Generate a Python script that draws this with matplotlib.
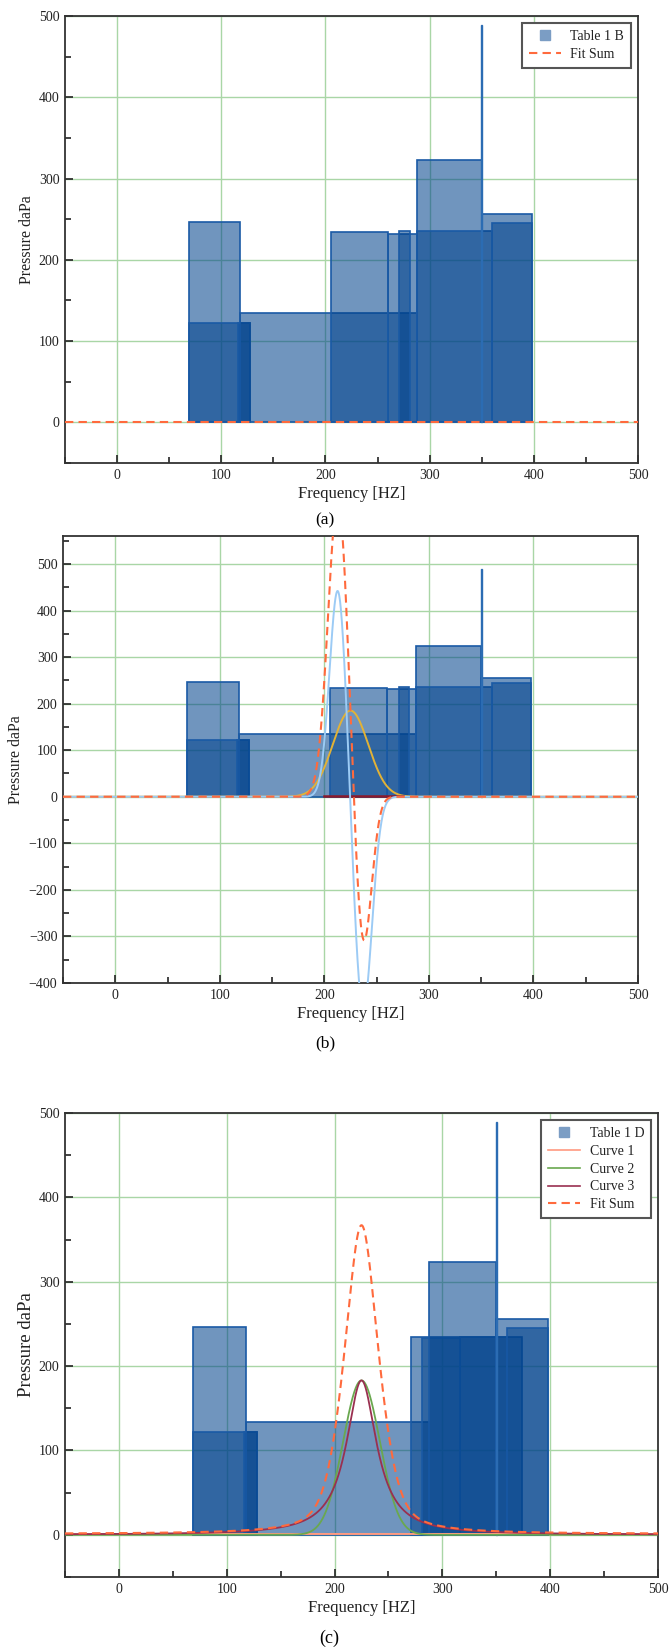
import matplotlib.pyplot as plt
import numpy as np
from matplotlib.lines import Line2D
from matplotlib.ticker import MultipleLocator

plt.rcParams["font.family"] = ["Liberation Serif", "DejaVu Serif"]
plt.rcParams["axes.unicode_minus"] = True

# Table 1 B columns (panels a, b): left edge, right edge [Hz], height [daPa]
bars_b_left = [69, 69, 116, 118, 205, 260, 271, 288, 288, 350, 360]
bars_b_right = [118, 128, 128, 288, 260, 288, 281, 350, 360, 398, 398]
bars_b_height = [246, 122, 122, 134, 234, 232, 235, 323, 235, 256, 245]

# Table 1 D columns (panel c)
bars_d_left = [69, 69, 116, 118, 271, 281, 316, 288, 350, 360]
bars_d_right = [118, 128, 128, 288, 360, 316, 374, 350, 398, 398]
bars_d_height = [246, 122, 122, 134, 235, 233, 234, 323, 256, 245]

# narrow spike at 350 Hz present in every table
spike_x = 350
spike_h = 489

# panel a: fit sum stays on the baseline
fit_a_x = [-50, 500]
fit_a_y = [1, 1]

# panel b fit components: (amplitude, centre, sigma)
blue_peaks = [(450, 213, 8.0), (-460, 237, 8.5)]
yellow_peaks = [(185, 225, 17.0)]
fit_b_peaks = [(640, 213, 9.5), (-331, 237, 8.0)]
red_b_x = [200, 275]
red_b_y = [1, 1]

# panel c fit components
curve1_level = 1.0
curve2_gauss = (183, 225, 17.0)      # amplitude, centre, sigma
curve3_lorentz = (183, 225, 17.0)    # amplitude, centre, half width

X_EVAL = np.linspace(-50, 500, 2201)

BAR_FACE = (0.0, 0.26, 0.55, 0.56)
BAR_EDGE = "#1a5aa5"
LEGEND_SQ = "#7b9dc4"
FIT_COLOR = "#ff6a3d"
GRID_COLOR = "#a9d6a6"


def gauss(x, amp, cen, sig):
    return amp * np.exp(-0.5 * ((x - cen) / sig) ** 2)


def lorentz(x, amp, cen, hw):
    return amp / (1 + ((x - cen) / hw) ** 2)


def peaks_sum(x, peaks):
    y = np.zeros_like(x)
    for amp, cen, sig in peaks:
        y = y + gauss(x, amp, cen, sig)
    return y


def px_axes(fig, left, top, right, bottom, W=670, H=1648):
    return fig.add_axes([left / W, 1 - bottom / H, (right - left) / W, (bottom - top) / H])


def style_axes(ax, ylim, ylabel_x, ylabel_size=11.5):
    ax.set_xlim(-50, 500)
    ax.set_ylim(*ylim)
    ax.xaxis.set_major_locator(MultipleLocator(100))
    ax.xaxis.set_minor_locator(MultipleLocator(50))
    ax.yaxis.set_major_locator(MultipleLocator(100))
    ax.yaxis.set_minor_locator(MultipleLocator(50))
    ax.tick_params(which="both", direction="in", top=False, right=False,
                   labelsize=10, labelcolor="#222222", color="#222222", width=1.2)
    ax.tick_params(which="major", length=6, pad=4)
    ax.tick_params(which="minor", length=4)
    ax.grid(True, which="major", color=GRID_COLOR, lw=1.0)
    ax.set_axisbelow(True)
    for sp in ax.spines.values():
        sp.set_color("#333333")
        sp.set_linewidth(1.3)
    ax.set_xlabel("Frequency [HZ]", fontsize=12, labelpad=3, color="#222222")
    ax.set_ylabel("Pressure daPa", fontsize=ylabel_size, color="#222222")
    ax.yaxis.set_label_coords(ylabel_x, 0.5)


def draw_bars(ax, left, right, height):
    widths = [r - l for l, r in zip(left, right)]
    ax.bar(left, height, width=widths, align="edge",
           facecolor=BAR_FACE, edgecolor=BAR_EDGE, linewidth=1.2, zorder=2)
    ax.bar([spike_x - 0.4], [spike_h], width=0.8, align="edge",
           facecolor=BAR_FACE, edgecolor="#2b6cb3", linewidth=1.0, zorder=2)


def legend_box(ax, handles, labels):
    leg = ax.legend(handles, labels, loc="upper right", fontsize=10,
                    fancybox=False, framealpha=1, edgecolor="#555555",
                    handlelength=2.3, handletextpad=0.7, labelspacing=0.35,
                    borderaxespad=0.5, borderpad=0.5)
    leg.get_frame().set_linewidth(1.5)
    for t in leg.get_texts():
        t.set_color("#222222")
    return leg


fig = plt.figure(figsize=(6.7, 16.48), dpi=100)

# ---------------- (a)
ax = px_axes(fig, 65, 16, 638, 463)
draw_bars(ax, bars_b_left, bars_b_right, bars_b_height)
ax.plot(fit_a_x, fit_a_y, ls="--", dashes=(4, 2.5), color=FIT_COLOR, lw=1.5, zorder=4)
style_axes(ax, (-50, 500), -0.052)
legend_box(ax,
           [Line2D([], [], marker="s", ls="", color=LEGEND_SQ, markersize=7),
            Line2D([], [], ls="--", dashes=(4, 2.5), color=FIT_COLOR, lw=1.5)],
           ["Table 1 B", "Fit Sum"])
fig.text(325 / 670, 1 - 520 / 1648, "(a)", ha="center", va="center", fontsize=12.5)

# ---------------- (b)
ax = px_axes(fig, 63, 536, 638, 983)
draw_bars(ax, bars_b_left, bars_b_right, bars_b_height)
ax.plot(X_EVAL, peaks_sum(X_EVAL, yellow_peaks), color="#e2b236", lw=1.4, zorder=3)
ax.plot(red_b_x, red_b_y, color="#8b1a2b", lw=1.8, zorder=3)
ax.plot(X_EVAL, peaks_sum(X_EVAL, blue_peaks), color="#9ccbf5", lw=1.4, zorder=3)
ax.plot(X_EVAL, peaks_sum(X_EVAL, fit_b_peaks), ls="--", dashes=(4, 2.5),
        color=FIT_COLOR, lw=1.5, zorder=4)
style_axes(ax, (-400, 560), -0.068)
fig.text(325 / 670, 1 - 1043 / 1648, "(b)", ha="center", va="center", fontsize=12.5)

# ---------------- (c)
ax = px_axes(fig, 65, 1113, 658, 1577)
draw_bars(ax, bars_d_left, bars_d_right, bars_d_height)
c1 = np.full_like(X_EVAL, curve1_level)
c2 = gauss(X_EVAL, *curve2_gauss)
c3 = lorentz(X_EVAL, *curve3_lorentz)
ax.plot(X_EVAL, c1, color="#ff9a80", lw=1.4, zorder=3)
ax.plot(X_EVAL, c2, color="#6aa84f", lw=1.3, zorder=3)
ax.plot(X_EVAL, c3, color="#9a3050", lw=1.3, zorder=3)
ax.plot(X_EVAL, c1 + c2 + c3, ls="--", dashes=(4, 2.5), color=FIT_COLOR, lw=1.5, zorder=4)
style_axes(ax, (-50, 500), -0.050, ylabel_size=13.5)
legend_box(ax,
           [Line2D([], [], marker="s", ls="", color=LEGEND_SQ, markersize=7),
            Line2D([], [], color="#ff9a80", lw=1.2),
            Line2D([], [], color="#6aa84f", lw=1.2),
            Line2D([], [], color="#9a3050", lw=1.2),
            Line2D([], [], ls="--", dashes=(4, 2.5), color=FIT_COLOR, lw=1.5)],
           ["Table 1 D", "Curve 1", "Curve 2", "Curve 3", "Fit Sum"])
fig.text(329 / 670, 1 - 1638 / 1648, "(c)", ha="center", va="center", fontsize=13)

fig.savefig("out.png", dpi=100)
plt.close(fig)
